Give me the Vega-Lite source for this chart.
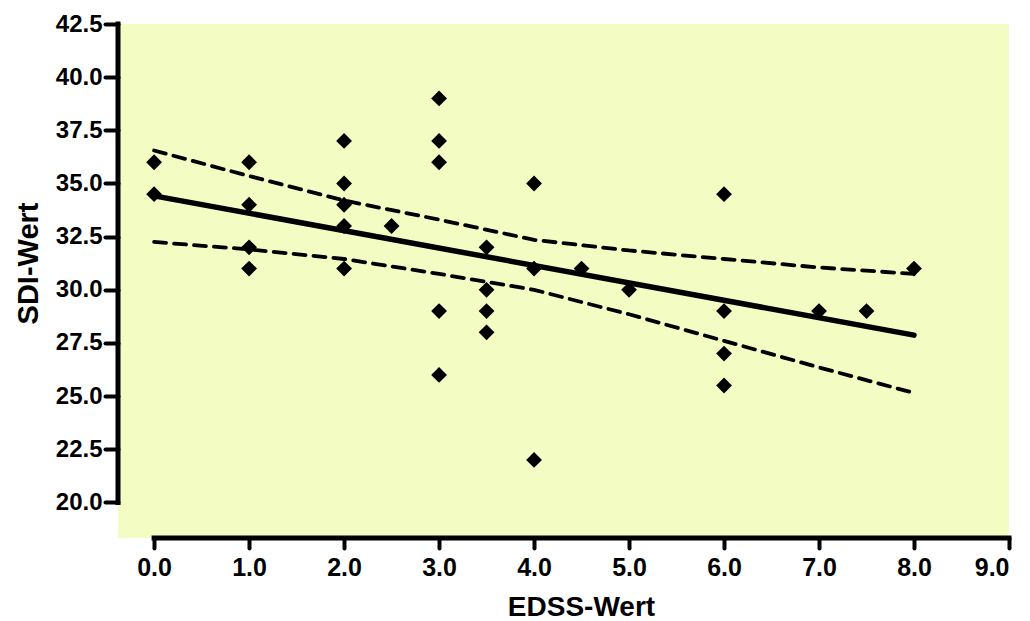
{
  "$schema": "https://vega.github.io/schema/vega-lite/v6.json",
  "width": 891,
  "height": 514,
  "autosize": "none",
  "padding": {"left": 118, "top": 24, "right": 21, "bottom": 83},
  "background": "white",
  "config": {
    "view": {"fill": "#F3FDC3", "stroke": null},
    "font": "Liberation Sans",
    "axis": {"grid": false, "domain": false, "tickColor": "black", "tickWidth": 4, "tickCap": "round", "labelColor": "black", "labelFont": "Liberation Sans", "labelFontWeight": "bold", "labelFontSize": 25, "titleFont": "Liberation Sans", "titleFontWeight": "bold", "titleColor": "black"}
  },
  "datasets": {
    "points": [
      {"edss": 0, "sdi": 36}, {"edss": 0, "sdi": 34.5},
      {"edss": 1, "sdi": 36}, {"edss": 1, "sdi": 34}, {"edss": 1, "sdi": 32}, {"edss": 1, "sdi": 31},
      {"edss": 2, "sdi": 37}, {"edss": 2, "sdi": 35}, {"edss": 2, "sdi": 34}, {"edss": 2, "sdi": 33}, {"edss": 2, "sdi": 31},
      {"edss": 2.5, "sdi": 33},
      {"edss": 3, "sdi": 39}, {"edss": 3, "sdi": 37}, {"edss": 3, "sdi": 36}, {"edss": 3, "sdi": 29}, {"edss": 3, "sdi": 26},
      {"edss": 3.5, "sdi": 32}, {"edss": 3.5, "sdi": 30}, {"edss": 3.5, "sdi": 29}, {"edss": 3.5, "sdi": 28},
      {"edss": 4, "sdi": 35}, {"edss": 4, "sdi": 31}, {"edss": 4, "sdi": 22},
      {"edss": 4.5, "sdi": 31},
      {"edss": 5, "sdi": 30},
      {"edss": 6, "sdi": 34.5}, {"edss": 6, "sdi": 29}, {"edss": 6, "sdi": 27}, {"edss": 6, "sdi": 25.5},
      {"edss": 7, "sdi": 29},
      {"edss": 7.5, "sdi": 29},
      {"edss": 8, "sdi": 31}
    ],
    "fit": [
      {"edss": 0, "sdi": 34.42},
      {"edss": 8, "sdi": 27.87}
    ],
    "ci": [
      {"edss": 0, "sdi": 36.55, "band": "upper"},
      {"edss": 1, "sdi": 35.35, "band": "upper"},
      {"edss": 2, "sdi": 34.2, "band": "upper"},
      {"edss": 3, "sdi": 33.3, "band": "upper"},
      {"edss": 4, "sdi": 32.35, "band": "upper"},
      {"edss": 5, "sdi": 31.85, "band": "upper"},
      {"edss": 6, "sdi": 31.45, "band": "upper"},
      {"edss": 7, "sdi": 31.05, "band": "upper"},
      {"edss": 8, "sdi": 30.75, "band": "upper"},
      {"edss": 0, "sdi": 32.25, "band": "lower"},
      {"edss": 1, "sdi": 31.9, "band": "lower"},
      {"edss": 2, "sdi": 31.45, "band": "lower"},
      {"edss": 3, "sdi": 30.75, "band": "lower"},
      {"edss": 4, "sdi": 30.0, "band": "lower"},
      {"edss": 5, "sdi": 28.85, "band": "lower"},
      {"edss": 6, "sdi": 27.6, "band": "lower"},
      {"edss": 7, "sdi": 26.35, "band": "lower"},
      {"edss": 8, "sdi": 25.15, "band": "lower"}
    ]
  },
  "layer": [
    {
      "data": {"name": "ci"},
      "mark": {"type": "line", "color": "black", "strokeWidth": 3.8, "strokeDash": [12, 8], "strokeCap": "round"},
      "encoding": {
        "x": {"field": "edss", "type": "quantitative", "scale": {"domain": [-0.38, 9], "nice": false, "zero": false},
          "axis": {"values": [0, 1, 2, 3, 4, 5, 6, 7, 8, 9], "format": ".1f", "tickSize": 10, "labelPadding": 7, "title": "EDSS-Wert", "titleFontSize": 28, "titleX": 463, "titleY": 77, "titleBaseline": "alphabetic", "titleAlign": "center", "titleAnchor": null}},
        "y": {"field": "sdi", "type": "quantitative", "scale": {"domain": [18.33, 42.5], "nice": false, "zero": false},
          "axis": {"values": [20, 22.5, 25, 27.5, 30, 32.5, 35, 37.5, 40, 42.5], "format": ".1f", "tickSize": 13, "labelPadding": 3, "labelFontSize": 24, "title": "SDI-Wert", "titleFontSize": 29, "titleAngle": -90, "titleX": -81, "titleY": 239, "titleBaseline": "alphabetic", "titleAlign": "center", "titleAnchor": null}},
        "detail": {"field": "band"}
      }
    },
    {
      "data": {"name": "fit"},
      "mark": {"type": "line", "color": "black", "strokeWidth": 5.5, "strokeCap": "round"},
      "encoding": {
        "x": {"field": "edss", "type": "quantitative"},
        "y": {"field": "sdi", "type": "quantitative"}
      }
    },
    {
      "data": {"name": "points"},
      "mark": {"type": "point", "shape": "diamond", "filled": true, "color": "black", "opacity": 1, "size": 250},
      "encoding": {
        "x": {"field": "edss", "type": "quantitative"},
        "y": {"field": "sdi", "type": "quantitative"}
      }
    },
    {
      "data": {"values": [{}]},
      "mark": {"type": "rule", "color": "black", "strokeWidth": 5, "strokeCap": "square"},
      "encoding": {"x": {"datum": 0}, "x2": {"datum": 9}, "y": {"datum": 18.33}}
    },
    {
      "data": {"values": [{}]},
      "mark": {"type": "rule", "color": "black", "strokeWidth": 5, "strokeCap": "square"},
      "encoding": {"x": {"datum": -0.38}, "y": {"datum": 20}, "y2": {"datum": 42.5}}
    }
  ]
}
